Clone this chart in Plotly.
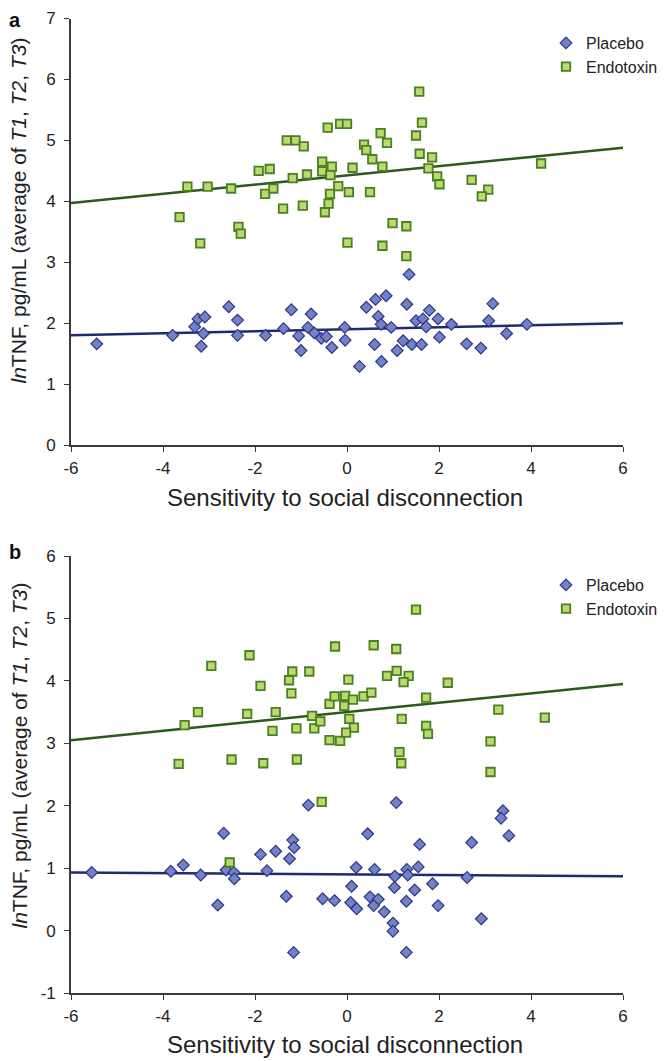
import plotly.graph_objects as go

# ---------------- Data ----------------
# Panel a
a_placebo_x = [-5.44, -3.79, -3.31, -3.24, -3.09, -3.12, -3.17, -2.57, -2.38, -2.38,
               -1.77, -1.38, -1.21, -1.05, -1.00, -0.78, -0.85, -0.71, -0.56, -0.45,
               -0.33, -0.05, -0.04, 0.27, 0.42, 0.62, 0.68, 0.74, 0.60, 0.75,
               0.96, 1.09, 1.22, 1.30, 1.41, 1.50, 1.62, 1.65, 1.72, 1.79,
               1.98, 2.01, 2.27, 2.60, 2.91, 3.08, 3.17, 3.47, 3.91, 0.85, 1.35]
a_placebo_y = [1.66, 1.80, 1.94, 2.07, 2.10, 1.83, 1.62, 2.27, 2.05, 1.80,
               1.80, 1.91, 2.22, 1.79, 1.55, 2.15, 1.93, 1.84, 1.75, 1.78,
               1.60, 1.93, 1.72, 1.29, 2.26, 2.39, 2.11, 1.98, 1.65, 1.37,
               1.93, 1.55, 1.71, 2.31, 1.65, 2.04, 1.65, 2.07, 1.94, 2.21,
               2.07, 1.77, 1.98, 1.66, 1.59, 2.04, 2.32, 1.83, 1.98, 2.45, 2.80]

a_endo_x = [-3.64, -3.47, -3.19, -3.03, -2.52, -2.36, -2.31, -1.92, -1.68, -1.78,
            -1.60, -1.39, -1.31, -1.12, -0.94, -1.18, -0.87, -0.96, -0.54, -0.54,
            -0.33, -0.36, -0.42, -0.48, -0.40, -0.37, -0.15, 0.00, 0.73, 0.87,
            1.63, 1.50, 0.37, 0.42, 0.55, 0.77, 0.12, -0.19, 0.04, 0.50,
            1.58, 1.85, 1.77, 1.96, 2.01, 2.71, 3.07, 2.93, 4.22, 0.99,
            1.29, 0.01, 0.77, 1.29, 1.57]
a_endo_y = [3.74, 4.24, 3.31, 4.24, 4.21, 3.58, 3.47, 4.50, 4.53, 4.12,
            4.21, 3.88, 5.00, 5.00, 4.90, 4.38, 4.44, 3.93, 4.65, 4.49,
            4.57, 4.43, 5.21, 3.82, 3.96, 4.12, 5.27, 5.27, 5.12, 4.96,
            5.29, 5.08, 4.93, 4.84, 4.69, 4.57, 4.55, 4.25, 4.15, 4.15,
            4.78, 4.72, 4.54, 4.41, 4.28, 4.35, 4.19, 4.08, 4.62, 3.64,
            3.59, 3.32, 3.27, 3.10, 5.80]

# Panel b
b_placebo_x = [-5.55, -3.83, -3.56, -3.18, -2.81, -2.68, -2.63, -2.46, -2.45, -1.88,
               -1.74, -1.55, -1.32, -1.25, -1.18, -1.15, -1.16, -0.84, -0.53, -0.27,
               1.07, 3.39, 3.35, 3.52, 0.45, 1.58, 2.71, 0.20, 0.60, 1.04,
               1.30, 1.32, 1.55, 2.61, 0.10, 1.03, 1.47, 1.86, 0.50, 0.68,
               0.08, 0.21, 0.58, 0.81, 1.29, 1.98, 1.00, 1.00, 2.92, 1.29]
b_placebo_y = [0.93, 0.95, 1.05, 0.89, 0.41, 1.56, 0.97, 0.93, 0.83, 1.22,
               0.96, 1.27, 0.55, 1.15, 1.45, 1.33, -0.35, 2.01, 0.51, 0.48,
               2.05, 1.92, 1.80, 1.52, 1.55, 1.38, 1.41, 1.01, 0.98, 0.87,
               0.98, 0.89, 1.02, 0.85, 0.71, 0.69, 0.65, 0.75, 0.54, 0.50,
               0.45, 0.35, 0.40, 0.30, 0.47, 0.40, 0.12, -0.01, 0.19, -0.35]

b_endo_x = [-3.66, -3.53, -3.24, -2.95, -2.51, -2.17, -2.12, -1.88, -1.82, -1.62,
            -1.55, -1.26, -1.19, -1.21, -1.10, -1.09, -0.82, -0.76, -0.71, -0.58,
            -0.55, -0.38, -0.27, -0.26, -0.38, -0.15, -2.55, 1.50, 0.58, 1.07,
            0.03, 0.87, 1.08, 1.34, 1.23, 2.19, -0.04, -0.06, 0.13, 0.36,
            0.53, 1.72, 3.29, 4.30, 0.05, 0.15, -0.02, 1.19, 1.72, 1.76,
            3.12, 1.14, 1.18, 3.12]
b_endo_y = [2.67, 3.29, 3.50, 4.24, 2.74, 3.47, 4.41, 3.92, 2.68, 3.20,
            3.50, 4.01, 4.15, 3.80, 3.24, 2.74, 4.15, 3.44, 3.24, 3.35,
            2.06, 3.63, 3.75, 4.55, 3.05, 3.04, 1.09, 5.14, 4.57, 4.51,
            4.02, 4.08, 4.16, 4.08, 3.98, 3.97, 3.76, 3.60, 3.70, 3.75,
            3.81, 3.73, 3.54, 3.41, 3.39, 3.25, 3.17, 3.39, 3.28, 3.15,
            3.03, 2.86, 2.68, 2.54]

# Fitted regression lines (values at the two ends of the x range)
fit_x = [-6, 6]
a_placebo_fit = [1.80, 2.00]
a_endo_fit = [3.97, 4.88]
b_placebo_fit = [0.93, 0.87]
b_endo_fit = [3.05, 3.95]

x_ticks = [-6, -4, -2, 0, 2, 4, 6]
x_tick_text = ["-6", "-4", "-2", "0", "2", "4", "6"]
a_y_ticks = [0, 1, 2, 3, 4, 5, 6, 7]
a_y_tick_text = ["0", "1", "2", "3", "4", "5", "6", "7"]
b_y_ticks = [-1, 0, 1, 2, 3, 4, 5, 6]
b_y_tick_text = ["-1", "0", "1", "2", "3", "4", "5", "6"]

# ---------------- Styles ----------------
FONT = "Liberation Sans, Arial, sans-serif"
PLAC_FILL = "#7381c6"
PLAC_EDGE = "#2c3784"
ENDO_FILL = "#b9db6c"
ENDO_EDGE = "#4b7f26"
PLAC_LINE = "#1f2b6e"
ENDO_LINE = "#2b5a1c"
AXIS_COL = "#3a3a3a"
TXT = "#222222"

fig = go.Figure()

def add_panel(px_, py_, ex_, ey_, pfit, efit, xa, ya, leg):
    fig.add_trace(go.Scatter(x=fit_x, y=efit, mode="lines", xaxis=xa, yaxis=ya,
                             line=dict(color=ENDO_LINE, width=2.5), showlegend=False,
                             hoverinfo="skip"))
    fig.add_trace(go.Scatter(x=fit_x, y=pfit, mode="lines", xaxis=xa, yaxis=ya,
                             line=dict(color=PLAC_LINE, width=2.5), showlegend=False,
                             hoverinfo="skip"))
    fig.add_trace(go.Scatter(x=px_, y=py_, mode="markers", name="Placebo",
                             xaxis=xa, yaxis=ya, legend=leg,
                             marker=dict(symbol="diamond", size=9, color=PLAC_FILL,
                                         line=dict(color=PLAC_EDGE, width=1.2))))
    fig.add_trace(go.Scatter(x=ex_, y=ey_, mode="markers", name="Endotoxin",
                             xaxis=xa, yaxis=ya, legend=leg,
                             marker=dict(symbol="square", size=8.5, color=ENDO_FILL,
                                         line=dict(color=ENDO_EDGE, width=1.8))))

add_panel(a_placebo_x, a_placebo_y, a_endo_x, a_endo_y, a_placebo_fit, a_endo_fit,
          "x", "y", "legend")
add_panel(b_placebo_x, b_placebo_y, b_endo_x, b_endo_y, b_placebo_fit, b_endo_fit,
          "x2", "y2", "legend2")

# The page body adds an 8 px offset, so the figure is 8 px smaller than the window.
W, H = 660, 1053
ML, MR, MT, MB = 63, 45, 5, 68
PH = H - MT - MB   # 980
PW = W - ML - MR   # 552

def py(pix):  # screenshot pixel row -> paper y
    return (993 - pix) / PH

def px(pix):  # screenshot pixel column -> paper x
    return (pix - 71) / PW

axis_common = dict(showline=True, linecolor=AXIS_COL, linewidth=1.6,
                   ticks="outside", ticklen=5, tickwidth=1.4, tickcolor=AXIS_COL,
                   showgrid=False, zeroline=False, mirror=False, automargin=False,
                   ticklabeloverflow="allow",
                   tickfont=dict(family=FONT, size=17, color=TXT))

legend_common = dict(xanchor="left", yanchor="top",
                     font=dict(family=FONT, size=16, color=TXT),
                     bgcolor="rgba(0,0,0,0)", tracegroupgap=0, itemwidth=30)

fig.update_layout(
    width=W, height=H,
    margin=dict(l=ML, r=MR, t=MT, b=MB, autoexpand=False),
    paper_bgcolor="white", plot_bgcolor="white",
    font=dict(family=FONT, color=TXT),
    xaxis=dict(domain=[0, 1], range=[-6, 6], tickvals=x_ticks, ticktext=x_tick_text,
               anchor="y", ticklabelstandoff=2, **axis_common),
    yaxis=dict(domain=[py(445), py(18.5)], range=[0, 7], tickvals=a_y_ticks,
               ticktext=a_y_tick_text, anchor="x", ticklabelstandoff=5, **axis_common),
    xaxis2=dict(domain=[0, 1], range=[-6, 6], tickvals=x_ticks, ticktext=x_tick_text,
                anchor="y2", ticklabelstandoff=2, **axis_common),
    yaxis2=dict(domain=[py(993), py(556)], range=[-1, 6], tickvals=b_y_ticks,
                ticktext=b_y_tick_text, anchor="x2", ticklabelstandoff=5, **axis_common),
    legend=dict(x=px(546), y=py(26), **legend_common),
    legend2=dict(x=px(546), y=py(568), **legend_common),
)

ytitle = "<i>ln</i>TNF, pg/mL (average of <i>T1</i>, <i>T2</i>, <i>T3</i>)"
xtitle = "Sensitivity to social disconnection"
yt_font = dict(family=FONT, size=21, color=TXT)
xt_font = dict(family=FONT, size=24, color=TXT)
annotations = [
    dict(text=ytitle, x=px(5), y=py(211), xref="paper", yref="paper", textangle=-90,
         showarrow=False, font=yt_font, xanchor="left", yanchor="middle"),
    dict(text=ytitle, x=px(5), y=py(756), xref="paper", yref="paper", textangle=-90,
         showarrow=False, font=yt_font, xanchor="left", yanchor="middle"),
    dict(text=xtitle, x=px(345), y=py(497), xref="paper", yref="paper",
         showarrow=False, font=xt_font, xanchor="center", yanchor="middle"),
    dict(text=xtitle, x=px(345), y=py(1044), xref="paper", yref="paper",
         showarrow=False, font=xt_font, xanchor="center", yanchor="middle"),
    dict(text="<b>a</b>", x=px(8), y=py(8), xref="paper", yref="paper",
         showarrow=False, font=dict(family=FONT, size=20, color="#111111"),
         xanchor="left", yanchor="top", borderpad=0),
    dict(text="<b>b</b>", x=px(8), y=py(540), xref="paper", yref="paper",
         showarrow=False, font=dict(family=FONT, size=20, color="#111111"),
         xanchor="left", yanchor="top", borderpad=0),
]
fig.update_layout(annotations=annotations)

fig.write_html("out.html")
